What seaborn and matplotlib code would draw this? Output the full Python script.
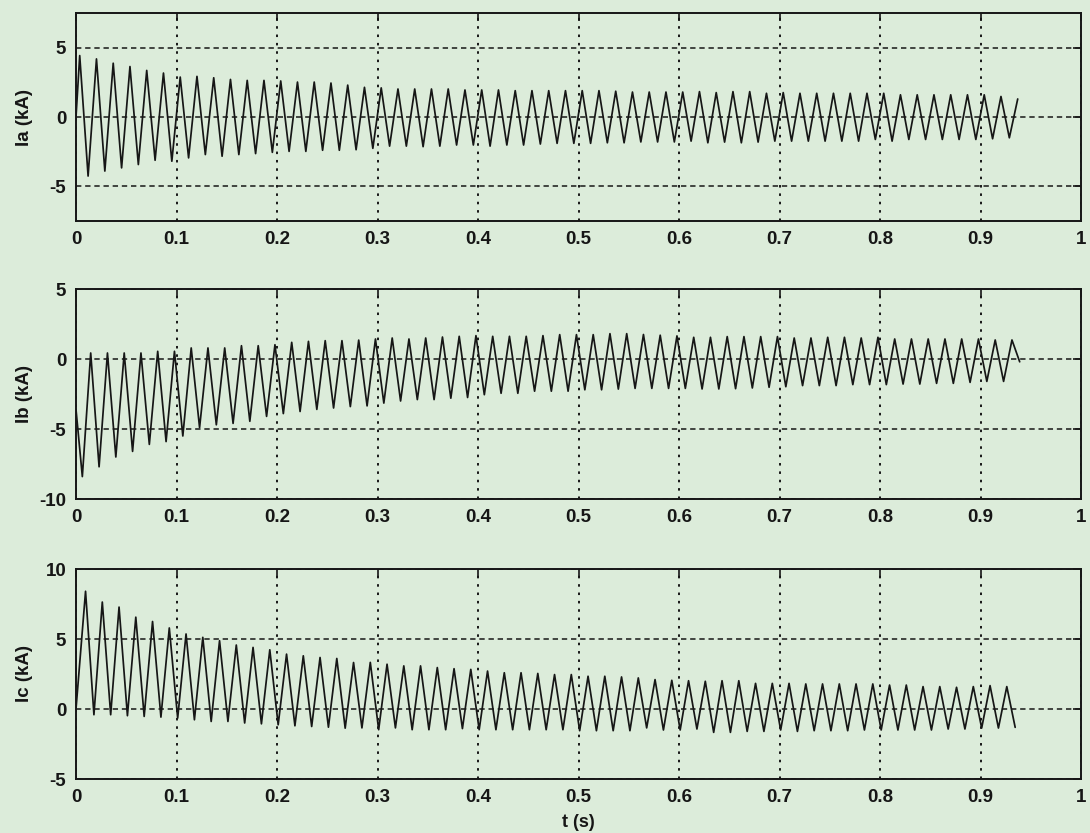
import numpy as np
import pandas as pd
import matplotlib
matplotlib.use("Agg")
import matplotlib.pyplot as plt
import seaborn as sns

# ---------------- data ----------------
HALF_PERIOD = 1.0 / 120.0          # 60 Hz signal, extrema every half cycle

# Phase A: first extreme is a peak
IA_START = 0.0
IA_FIRST_T = 0.0037
ia_peaks = [4.43, 4.19, 3.88, 3.64, 3.36, 3.17, 2.88, 2.93, 2.83, 2.71, 2.64, 2.64, 2.60, 2.52, 2.52, 2.45, 2.30,
            2.14, 2.10, 2.02, 2.02, 2.02, 2.02, 1.95, 1.95, 1.95, 1.90, 1.90, 1.90, 1.90, 1.90, 1.90, 1.86, 1.80, 1.80, 1.80, 1.80,
            1.83, 1.76, 1.83, 1.83, 1.71, 1.76, 1.71, 1.71, 1.71, 1.71, 1.71, 1.71, 1.60, 1.60, 1.60, 1.60, 1.60, 1.60, 1.48, 1.30]
ia_troughs = [-4.26, -3.90, -3.67, -3.43, -3.12, -3.19, -2.95, -2.71, -2.83, -2.71, -2.64, -2.55, -2.48, -2.48, -2.40, -2.40, -2.36,
              -2.26, -2.10, -2.10, -2.14, -2.10, -2.02, -2.02, -2.10, -2.02, -2.02, -1.95, -1.90, -1.90, -1.90, -1.86, -1.86, -1.80, -1.80, -1.80,
              -1.74, -1.86, -1.81, -1.86, -1.81, -1.74, -1.74, -1.74, -1.74, -1.74, -1.74, -1.62, -1.74, -1.62, -1.62, -1.62, -1.62, -1.62, -1.57, -1.50]

# Phase B: first extreme is a trough
IB_START = -3.6
IB_FIRST_T = 0.0063
IB_END_T, IB_END = 0.939, -0.2
ib_troughs = [-8.40, -7.70, -7.00, -6.60, -6.10, -5.90, -5.50, -4.90, -4.70, -4.60, -4.45, -4.10, -3.90, -3.75, -3.60, -3.50,
              -3.40, -3.35, -3.15, -3.00, -2.90, -2.90, -2.80, -2.75, -2.55, -2.45, -2.45, -2.30, -2.30, -2.30, -2.20, -2.20, -2.15, -2.10,
              -2.10, -2.10,
              -2.10, -2.14, -2.14, -2.12, -2.07, -2.02, -1.98, -1.90, -1.90, -1.90, -1.83, -1.83, -1.83, -1.79, -1.79, -1.74, -1.74, -1.67, -1.60, -1.60]
ib_peaks = [0.43, 0.43, 0.43, 0.43, 0.55, 0.55, 0.79, 0.79, 0.79, 0.95, 0.95, 1.02, 1.19, 1.26, 1.31, 1.31,
            1.35, 1.43, 1.50, 1.43, 1.50, 1.57, 1.62, 1.67, 1.62, 1.62, 1.62, 1.67, 1.74, 1.74, 1.74, 1.81, 1.81,
            1.75, 1.70, 1.65,
            1.55, 1.55, 1.60, 1.60, 1.60, 1.60, 1.50, 1.50, 1.55, 1.55, 1.50, 1.55, 1.43, 1.43, 1.43, 1.43, 1.43, 1.43, 1.36, 1.36]

# Phase C: first extreme is a peak
IC_START = 0.0
IC_FIRST_T = 0.0095
ic_peaks = [8.41, 7.64, 7.28, 6.56, 6.25, 5.79, 5.36, 5.12, 4.88, 4.57, 4.40, 4.23, 3.92, 3.80, 3.68, 3.61, 3.32,
            3.33, 3.20, 3.08, 3.08, 2.96, 2.88, 2.83, 2.71, 2.59, 2.59, 2.54, 2.46, 2.46, 2.34, 2.34, 2.29, 2.22, 2.10,
            2.05,
            2.02, 1.98, 2.02, 2.02, 1.83, 1.83, 1.83, 1.79, 1.79, 1.79, 1.79, 1.79, 1.71, 1.71, 1.60, 1.60, 1.55, 1.60, 1.67, 1.60]
ic_troughs = [-0.41, -0.41, -0.48, -0.53, -0.58, -0.65, -0.77, -0.89, -0.89, -1.00, -1.06, -1.13, -1.20, -1.25, -1.30, -1.37,
              -1.35, -1.48, -1.35, -1.48, -1.48, -1.48, -1.40, -1.48, -1.48, -1.48, -1.48, -1.48, -1.48, -1.55, -1.55, -1.55, -1.55, -1.35,
              -1.50, -1.50,
              -1.43, -1.67, -1.67, -1.60, -1.60, -1.50, -1.60, -1.55, -1.55, -1.55, -1.50, -1.50, -1.50, -1.50, -1.50, -1.43, -1.43, -1.36, -1.36, -1.31]

x_ticks = [0, 0.1, 0.2, 0.3, 0.4, 0.5, 0.6, 0.7, 0.8, 0.9, 1.0]
x_tick_labels = ["0", "0.1", "0.2", "0.3", "0.4", "0.5", "0.6", "0.7", "0.8", "0.9", "1"]
panel_labels = ["Ia (kA)", "Ib (kA)", "Ic (kA)"]
y_ticks = [[-5, 0, 5], [-10, -5, 0, 5], [-5, 0, 5, 10]]
y_limits = [(-7.5, 7.5), (-10, 5), (-5, 10)]
x_label = "t (s)"


def interleave(first, second):
    out = []
    for i, v in enumerate(first):
        out.append(v)
        if i < len(second):
            out.append(second[i])
    return out


def build(start_val, first_t, first, second, end=None):
    vals = interleave(first, second)
    t = first_t + np.arange(len(vals)) * HALF_PERIOD
    tt = [0.0] + list(t)
    vv = [start_val] + vals
    if end is not None:
        tt.append(end[0])
        vv.append(end[1])
    return pd.DataFrame({"t": tt, "i": vv})


series = [
    build(IA_START, IA_FIRST_T, ia_peaks, ia_troughs),
    build(IB_START, IB_FIRST_T, ib_troughs, ib_peaks, (IB_END_T, IB_END)),
    build(IC_START, IC_FIRST_T, ic_peaks, ic_troughs),
]

# ---------------- drawing ----------------
sns.set_style("white")
BG = "#dcecda"
INK = "#161616"
plt.rcParams["font.family"] = ["Liberation Sans", "DejaVu Sans"]
plt.rcParams["font.weight"] = "bold"

fig = plt.figure(figsize=(10.9, 8.33), dpi=100, facecolor=BG)
W, H = 1090.0, 833.0
frames = [(13, 221), (289, 499), (569, 779)]
left_px, right_px = 76, 1081

for idx, (top, bot) in enumerate(frames):
    ax = fig.add_axes([left_px / W, (H - bot) / H, (right_px - left_px) / W, (bot - top) / H])
    ax.set_facecolor(BG)
    sns.lineplot(data=series[idx], x="t", y="i", ax=ax, color=INK, linewidth=1.25,
                 sort=False, estimator=None)
    ax.set_xlim(0, 1)
    ax.set_ylim(*y_limits[idx])
    ax.set_xticks(x_ticks)
    ax.set_xticklabels(x_tick_labels)
    ax.set_yticks(y_ticks[idx])
    ax.set_yticklabels([str(v) for v in y_ticks[idx]])
    # vertical grid: dotted, horizontal grid: dashed (as in the reference)
    ax.xaxis.grid(True, color=INK, linestyle=(0, (1.3, 3.0)), linewidth=1.4)
    ax.yaxis.grid(True, color=INK, linestyle=(0, (3.5, 2.5)), linewidth=1.1)
    ax.tick_params(direction="in", length=6, width=1.2, top=True, right=True,
                   labelsize=13.5, colors=INK, pad=7)
    for lab in ax.get_xticklabels() + ax.get_yticklabels():
        lab.set_fontweight("bold")
    for sp in ax.spines.values():
        sp.set_visible(True)
        sp.set_color(INK)
        sp.set_linewidth(1.4)
    ax.set_ylabel(panel_labels[idx], fontsize=13.5, fontweight="bold", color=INK)
    ax.yaxis.set_label_coords(-0.043, 0.5)
    if idx == 2:
        ax.set_xlabel(x_label, fontsize=13, fontweight="bold", color=INK, labelpad=6)
    else:
        ax.set_xlabel("")

fig.savefig("out.png", dpi=100, facecolor=BG)
